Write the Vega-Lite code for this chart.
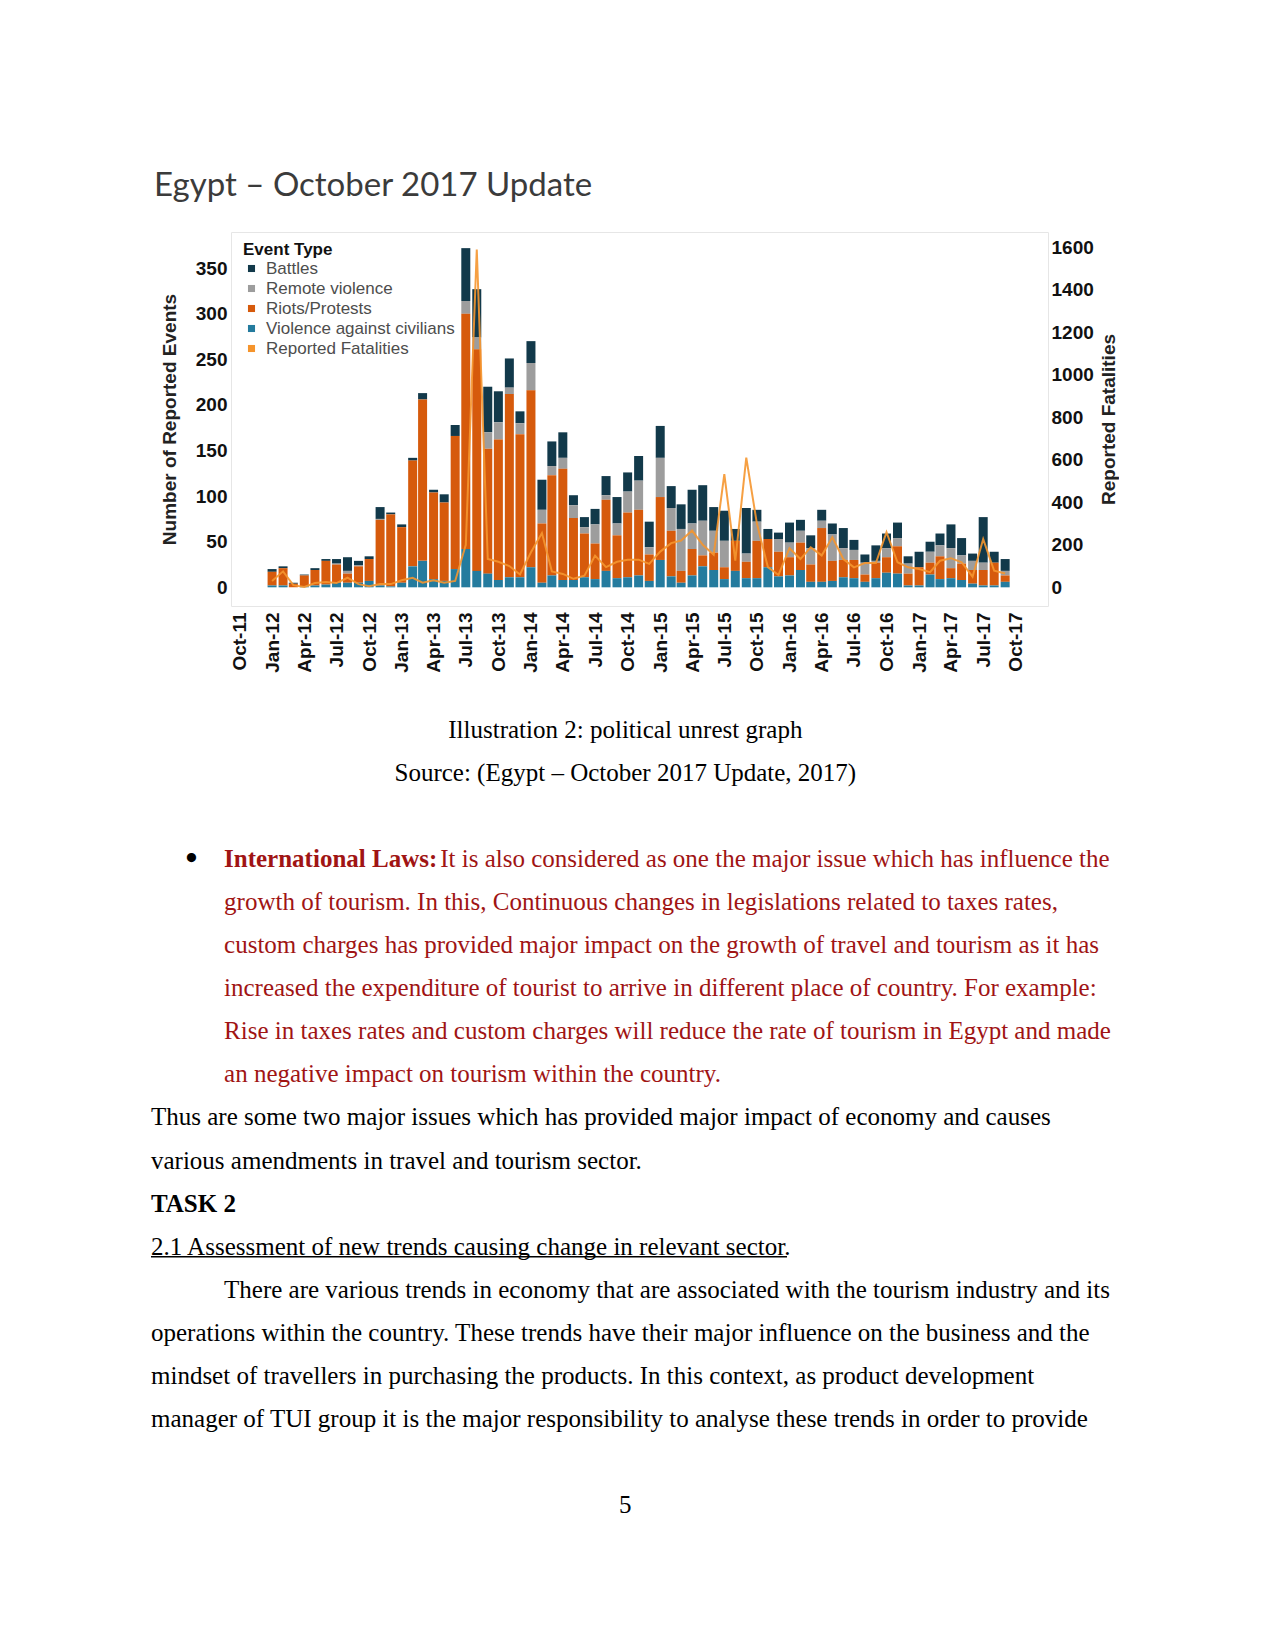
{
  "$schema": "https://vega.github.io/schema/vega-lite/v6.json",
  "background": "white",
  "padding": {"left": 150, "top": 169, "right": 0, "bottom": 0},
  "bounds": "flush",
  "spacing": 93,
  "config": {
    "font": "Liberation Sans",
    "view": {"stroke": "#e6e6e6"},
    "axis": {"labelFont": "Liberation Sans", "titleFont": "Liberation Sans", "grid": false, "domain": false, "ticks": false}
  },
  "vconcat": [
    {
      "width": 817,
      "height": 374,
      "title": {"text": "Egypt – October 2017 Update", "anchor": "start", "frame": "group", "dx": -77, "font": "Lato", "fontSize": 33, "fontWeight": "normal", "color": "#3b3b3b", "baseline": "alphabetic", "offset": 3},
      "data": {"values": [
        {"m":"2012-01-01","Battles":3,"Remote violence":0,"Riots/Protests":15,"Violence against civilians":2,"f":30},
        {"m":"2012-02-01","Battles":2,"Remote violence":0,"Riots/Protests":19,"Violence against civilians":2,"f":75},
        {"m":"2012-03-01","Battles":1,"Remote violence":0,"Riots/Protests":4,"Violence against civilians":0,"f":10},
        {"m":"2012-04-01","Battles":1,"Remote violence":0,"Riots/Protests":12,"Violence against civilians":1,"f":2},
        {"m":"2012-05-01","Battles":2,"Remote violence":0,"Riots/Protests":17,"Violence against civilians":2,"f":20},
        {"m":"2012-06-01","Battles":2,"Remote violence":0,"Riots/Protests":26,"Violence against civilians":3,"f":25},
        {"m":"2012-07-01","Battles":5,"Remote violence":1,"Riots/Protests":20,"Violence against civilians":5,"f":20},
        {"m":"2012-08-01","Battles":15,"Remote violence":3,"Riots/Protests":10,"Violence against civilians":5,"f":45},
        {"m":"2012-09-01","Battles":5,"Remote violence":1,"Riots/Protests":18,"Violence against civilians":5,"f":15},
        {"m":"2012-10-01","Battles":3,"Remote violence":0,"Riots/Protests":24,"Violence against civilians":7,"f":5},
        {"m":"2012-11-01","Battles":13,"Remote violence":1,"Riots/Protests":72,"Violence against civilians":2,"f":15},
        {"m":"2012-12-01","Battles":2,"Remote violence":0,"Riots/Protests":79,"Violence against civilians":1,"f":15},
        {"m":"2013-01-01","Battles":3,"Remote violence":0,"Riots/Protests":61,"Violence against civilians":5,"f":33},
        {"m":"2013-02-01","Battles":3,"Remote violence":0,"Riots/Protests":116,"Violence against civilians":23,"f":45},
        {"m":"2013-03-01","Battles":7,"Remote violence":0,"Riots/Protests":177,"Violence against civilians":29,"f":22},
        {"m":"2013-04-01","Battles":3,"Remote violence":0,"Riots/Protests":95,"Violence against civilians":9,"f":33},
        {"m":"2013-05-01","Battles":9,"Remote violence":0,"Riots/Protests":86,"Violence against civilians":7,"f":22},
        {"m":"2013-06-01","Battles":12,"Remote violence":0,"Riots/Protests":146,"Violence against civilians":20,"f":30},
        {"m":"2013-07-01","Battles":58,"Remote violence":14,"Riots/Protests":258,"Violence against civilians":42,"f":200},
        {"m":"2013-08-01","Battles":53,"Remote violence":13,"Riots/Protests":243,"Violence against civilians":18,"f":1590},
        {"m":"2013-09-01","Battles":50,"Remote violence":18,"Riots/Protests":137,"Violence against civilians":15,"f":133},
        {"m":"2013-10-01","Battles":34,"Remote violence":19,"Riots/Protests":154,"Violence against civilians":8,"f":120},
        {"m":"2013-11-01","Battles":32,"Remote violence":7,"Riots/Protests":201,"Violence against civilians":11,"f":100},
        {"m":"2013-12-01","Battles":13,"Remote violence":12,"Riots/Protests":157,"Violence against civilians":11,"f":60},
        {"m":"2014-01-01","Battles":24,"Remote violence":30,"Riots/Protests":194,"Violence against civilians":22,"f":165},
        {"m":"2014-02-01","Battles":33,"Remote violence":15,"Riots/Protests":65,"Violence against civilians":5,"f":255},
        {"m":"2014-03-01","Battles":27,"Remote violence":10,"Riots/Protests":110,"Violence against civilians":13,"f":75},
        {"m":"2014-04-01","Battles":28,"Remote violence":12,"Riots/Protests":122,"Violence against civilians":8,"f":63},
        {"m":"2014-05-01","Battles":11,"Remote violence":14,"Riots/Protests":68,"Violence against civilians":8,"f":40},
        {"m":"2014-06-01","Battles":11,"Remote violence":7,"Riots/Protests":48,"Violence against civilians":11,"f":55},
        {"m":"2014-07-01","Battles":17,"Remote violence":21,"Riots/Protests":39,"Violence against civilians":9,"f":149},
        {"m":"2014-08-01","Battles":21,"Remote violence":5,"Riots/Protests":78,"Violence against civilians":18,"f":95},
        {"m":"2014-09-01","Battles":29,"Remote violence":13,"Riots/Protests":47,"Violence against civilians":10,"f":120},
        {"m":"2014-10-01","Battles":21,"Remote violence":23,"Riots/Protests":71,"Violence against civilians":11,"f":130},
        {"m":"2014-11-01","Battles":27,"Remote violence":32,"Riots/Protests":72,"Violence against civilians":13,"f":130},
        {"m":"2014-12-01","Battles":28,"Remote violence":8,"Riots/Protests":29,"Violence against civilians":7,"f":110},
        {"m":"2015-01-01","Battles":35,"Remote violence":43,"Riots/Protests":69,"Violence against civilians":30,"f":168},
        {"m":"2015-02-01","Battles":24,"Remote violence":25,"Riots/Protests":50,"Violence against civilians":12,"f":208},
        {"m":"2015-03-01","Battles":27,"Remote violence":46,"Riots/Protests":13,"Violence against civilians":5,"f":220},
        {"m":"2015-04-01","Battles":37,"Remote violence":28,"Riots/Protests":29,"Violence against civilians":13,"f":267},
        {"m":"2015-05-01","Battles":39,"Remote violence":38,"Riots/Protests":12,"Violence against civilians":23,"f":200},
        {"m":"2015-06-01","Battles":26,"Remote violence":24,"Riots/Protests":19,"Violence against civilians":19,"f":153},
        {"m":"2015-07-01","Battles":33,"Remote violence":29,"Riots/Protests":13,"Violence against civilians":9,"f":533},
        {"m":"2015-08-01","Battles":13,"Remote violence":0,"Riots/Protests":33,"Violence against civilians":18,"f":125},
        {"m":"2015-09-01","Battles":50,"Remote violence":9,"Riots/Protests":18,"Violence against civilians":10,"f":610},
        {"m":"2015-10-01","Battles":13,"Remote violence":21,"Riots/Protests":41,"Violence against civilians":10,"f":300},
        {"m":"2015-11-01","Battles":11,"Remote violence":0,"Riots/Protests":31,"Violence against civilians":22,"f":95},
        {"m":"2015-12-01","Battles":7,"Remote violence":14,"Riots/Protests":27,"Violence against civilians":12,"f":58},
        {"m":"2016-01-01","Battles":22,"Remote violence":16,"Riots/Protests":20,"Violence against civilians":13,"f":184},
        {"m":"2016-02-01","Battles":12,"Remote violence":13,"Riots/Protests":30,"Violence against civilians":19,"f":133},
        {"m":"2016-03-01","Battles":14,"Remote violence":18,"Riots/Protests":19,"Violence against civilians":6,"f":188},
        {"m":"2016-04-01","Battles":12,"Remote violence":8,"Riots/Protests":59,"Violence against civilians":6,"f":150},
        {"m":"2016-05-01","Battles":12,"Remote violence":29,"Riots/Protests":22,"Violence against civilians":7,"f":235},
        {"m":"2016-06-01","Battles":22,"Remote violence":13,"Riots/Protests":19,"Violence against civilians":11,"f":133},
        {"m":"2016-07-01","Battles":11,"Remote violence":11,"Riots/Protests":20,"Violence against civilians":10,"f":94},
        {"m":"2016-08-01","Battles":9,"Remote violence":13,"Riots/Protests":8,"Violence against civilians":6,"f":114},
        {"m":"2016-09-01","Battles":17,"Remote violence":2,"Riots/Protests":17,"Violence against civilians":10,"f":114},
        {"m":"2016-10-01","Battles":16,"Remote violence":10,"Riots/Protests":17,"Violence against civilians":16,"f":259},
        {"m":"2016-11-01","Battles":17,"Remote violence":9,"Riots/Protests":30,"Violence against civilians":15,"f":118},
        {"m":"2016-12-01","Battles":8,"Remote violence":11,"Riots/Protests":13,"Violence against civilians":2,"f":94},
        {"m":"2017-01-01","Battles":17,"Remote violence":0,"Riots/Protests":20,"Violence against civilians":2,"f":86},
        {"m":"2017-02-01","Battles":11,"Remote violence":12,"Riots/Protests":13,"Violence against civilians":14,"f":71},
        {"m":"2017-03-01","Battles":13,"Remote violence":12,"Riots/Protests":25,"Violence against civilians":9,"f":125},
        {"m":"2017-04-01","Battles":26,"Remote violence":22,"Riots/Protests":11,"Violence against civilians":10,"f":137},
        {"m":"2017-05-01","Battles":19,"Remote violence":9,"Riots/Protests":18,"Violence against civilians":8,"f":118},
        {"m":"2017-06-01","Battles":8,"Remote violence":10,"Riots/Protests":15,"Violence against civilians":4,"f":50},
        {"m":"2017-07-01","Battles":50,"Remote violence":8,"Riots/Protests":17,"Violence against civilians":2,"f":227},
        {"m":"2017-08-01","Battles":12,"Remote violence":0,"Riots/Protests":25,"Violence against civilians":2,"f":78},
        {"m":"2017-09-01","Battles":13,"Remote violence":5,"Riots/Protests":7,"Violence against civilians":6,"f":65}
      ]},
      "layer": [
        {
          "transform": [{"fold": ["Battles", "Remote violence", "Riots/Protests", "Violence against civilians"], "as": ["type", "n"]}],
          "mark": {"type": "bar", "width": 9},
          "encoding": {
            "x": {"field": "m", "type": "temporal",
                  "scale": {"domain": [{"year": 2011, "month": 9, "date": 7}, {"year": 2017, "month": 12, "date": 31}], "nice": false, "padding": 0},
                  "axis": {"title": null, "format": "%b-%y", "tickCount": {"interval": "month", "step": 3}, "labelAngle": 270, "labelAlign": "right", "labelBaseline": "middle", "labelPadding": 6, "labelFontSize": 19, "labelFontWeight": "bold", "labelColor": "#111111", "labelOverlap": false, "labelFlush": false}},
            "y": {"field": "n", "type": "quantitative", "stack": "zero",
                  "scale": {"domain": [-20.5, 389.7], "nice": false, "zero": false},
                  "axis": {"orient": "left", "title": "Number of Reported Events", "values": [0, 50, 100, 150, 200, 250, 300, 350], "labelFontSize": 19, "labelFontWeight": "bold", "labelColor": "#111111", "labelPadding": 4, "titleFontSize": 19, "titleFontWeight": "bold", "titleColor": "#222222", "titlePadding": 16}},
            "color": {"field": "type", "type": "nominal",
                      "scale": {"domain": ["Battles", "Remote violence", "Riots/Protests", "Violence against civilians", "Reported Fatalities"], "range": ["#12394a", "#9d9d9d", "#d65a0c", "#247b9e", "#f5942c"]},
                      "legend": {"title": "Event Type", "orient": "none", "legendX": 12, "legendY": 10, "symbolType": "square", "symbolSize": 50, "titleFontSize": 17, "titleFontWeight": "bold", "titleColor": "#111111", "titleFont": "Liberation Sans", "titlePadding": 1, "labelFont": "Liberation Sans", "labelFontSize": 17, "labelColor": "#4d4d4d", "labelOffset": 6, "labelLimit": 0, "rowPadding": 2}},
            "order": {"field": "type", "sort": "descending"}
          }
        },
        {
          "mark": {"type": "line", "color": "#f5962f", "strokeWidth": 2, "opacity": 0.9},
          "encoding": {
            "x": {"field": "m", "type": "temporal"},
            "y": {"field": "f", "type": "quantitative",
                  "scale": {"domain": [-88, 1672], "nice": false, "zero": false},
                  "axis": {"orient": "right", "title": "Reported Fatalities", "format": "d", "values": [0, 200, 400, 600, 800, 1000, 1200, 1400, 1600], "labelFontSize": 19, "labelFontWeight": "bold", "labelColor": "#111111", "labelPadding": 3, "titleFontSize": 19, "titleFontWeight": "bold", "titleColor": "#222222", "titleAngle": 270, "titleBaseline": "top", "titlePadding": 6}}
          }
        }
      ],
      "resolve": {"scale": {"y": "independent"}}
    },
    {
      "width": 817,
      "height": 830,
      "view": {"stroke": null},
      "data": {"values": [
        {"ln": 0, "role": "caption", "t": "Illustration 2: political unrest graph"},
        {"ln": 1, "role": "caption", "t": "Source: (Egypt – October 2017 Update, 2017)"},
        {"ln": 3, "role": "bullet", "t": "•"},
        {"ln": 3, "role": "lead", "t": "International Laws:"},
        {"ln": 3, "role": "leadrest", "t": "It is also considered as one the major issue which has influence the"},
        {"ln": 4, "role": "red", "t": "growth of tourism. In this, Continuous changes in legislations related to taxes rates,"},
        {"ln": 5, "role": "red", "t": "custom charges has provided major impact on the growth of travel and tourism as it has"},
        {"ln": 6, "role": "red", "t": "increased the expenditure of tourist to arrive in different place of country. For example:"},
        {"ln": 7, "role": "red", "t": "Rise in taxes rates and custom charges will reduce the rate of tourism in Egypt and made"},
        {"ln": 8, "role": "red", "t": "an negative impact on tourism within the country."},
        {"ln": 9, "role": "body", "t": "Thus are some two major issues which has provided major impact of economy and causes"},
        {"ln": 10, "role": "body", "t": "various amendments in travel and tourism sector."},
        {"ln": 11, "role": "heading", "t": "TASK 2"},
        {"ln": 12, "role": "subheading", "t": "2.1 Assessment of new trends causing change in relevant sector."},
        {"ln": 13, "role": "indent", "t": "There are various trends in economy that are associated with the tourism industry and its"},
        {"ln": 14, "role": "body", "t": "operations within the country. These trends have their major influence on the business and the"},
        {"ln": 15, "role": "body", "t": "mindset of travellers in purchasing the products. In this context, as product development"},
        {"ln": 16, "role": "body", "t": "manager of TUI group it is the major responsibility to analyse these trends in order to provide"},
        {"ln": 18, "role": "page", "t": "5"}
      ]},
      "encoding": {
        "y": {"field": "ln", "type": "quantitative", "scale": {"domain": [-0.708, 18.55], "reverse": true, "nice": false, "zero": false}, "axis": null}
      },
      "layer": [
        {
          "transform": [{"filter": "datum.role === 'caption' || datum.role === 'page'"}],
          "mark": {"type": "text", "align": "center", "baseline": "middle", "font": "Liberation Serif", "fontSize": 25, "color": "#000000"},
          "encoding": {"x": {"datum": 487, "type": "quantitative", "scale": {"domain": [0, 974], "range": [-80, 894]}, "axis": null}, "text": {"field": "t"}}
        },
        {
          "transform": [{"filter": "datum.role === 'bullet'"}],
          "mark": {"type": "text", "align": "center", "baseline": "middle", "font": "Liberation Serif", "fontSize": 34, "fontWeight": "bold", "color": "#000000"},
          "encoding": {"x": {"datum": 41.5, "type": "quantitative"}, "text": {"field": "t"}}
        },
        {
          "transform": [{"filter": "datum.role === 'lead'"}],
          "mark": {"type": "text", "align": "left", "baseline": "middle", "font": "Liberation Serif", "fontSize": 25, "fontWeight": "bold", "color": "#a01414"},
          "encoding": {"x": {"datum": 75, "type": "quantitative"}, "text": {"field": "t"}}
        },
        {
          "transform": [{"filter": "datum.role === 'leadrest'"}],
          "mark": {"type": "text", "align": "left", "baseline": "middle", "font": "Liberation Serif", "fontSize": 25, "color": "#a01414"},
          "encoding": {"x": {"datum": 297, "type": "quantitative"}, "text": {"field": "t"}}
        },
        {
          "transform": [{"filter": "datum.role === 'red'"}],
          "mark": {"type": "text", "align": "left", "baseline": "middle", "font": "Liberation Serif", "fontSize": 25, "color": "#a01414"},
          "encoding": {"x": {"datum": 75, "type": "quantitative"}, "text": {"field": "t"}}
        },
        {
          "transform": [{"filter": "datum.role === 'body' || datum.role === 'subheading'"}],
          "mark": {"type": "text", "align": "left", "baseline": "middle", "font": "Liberation Serif", "fontSize": 25, "color": "#000000"},
          "encoding": {"x": {"datum": 0, "type": "quantitative"}, "text": {"field": "t"}}
        },
        {
          "transform": [{"filter": "datum.role === 'heading'"}],
          "mark": {"type": "text", "align": "left", "baseline": "middle", "font": "Liberation Serif", "fontSize": 25, "fontWeight": "bold", "color": "#000000"},
          "encoding": {"x": {"datum": 0, "type": "quantitative"}, "text": {"field": "t"}}
        },
        {
          "transform": [{"filter": "datum.role === 'indent'"}],
          "mark": {"type": "text", "align": "left", "baseline": "middle", "font": "Liberation Serif", "fontSize": 25, "color": "#000000"},
          "encoding": {"x": {"datum": 75, "type": "quantitative"}, "text": {"field": "t"}}
        },
        {
          "transform": [{"filter": "datum.role === 'subheading'"}],
          "mark": {"type": "rule", "color": "#000000", "strokeWidth": 1.5, "yOffset": 10},
          "encoding": {"x": {"datum": 0, "type": "quantitative"}, "x2": {"datum": 653}}
        }
      ]
    }
  ]
}
